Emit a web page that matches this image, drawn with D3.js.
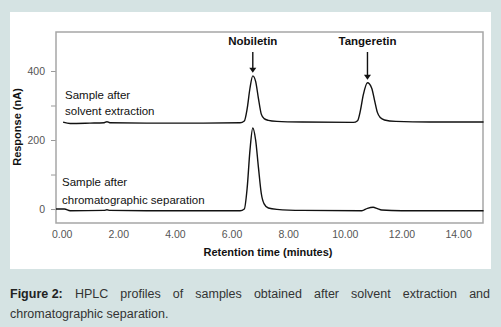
<!DOCTYPE html>
<html><head><meta charset="utf-8">
<script src="https://cdn.jsdelivr.net/npm/d3@7"></script>
<style>
html,body{margin:0;padding:0;background:#d5e3e3;}
svg{display:block;}
</style></head>
<body>
<svg id="c" width="501" height="327"></svg>
<script>
// ---- data ----
const xTicks = [0, 2, 4, 6, 8, 10, 12, 14];
const yTicks = [0, 100, 200, 300, 400];
const yLabelTicks = [0, 200, 400];

const solventTime  = [0.05, 0.3, 1.0, 1.5, 1.6, 1.7, 3.0, 5.0, 6.3, 6.45, 6.55, 6.65, 6.75, 6.85, 6.95, 7.05, 7.15, 7.3, 7.6, 8.5, 10.3, 10.45, 10.55, 10.65, 10.8, 10.95, 11.05, 11.15, 11.25, 11.4, 11.8, 13.0, 14.9];
const solventValue = [252, 248, 249, 250, 253, 250, 249, 249, 250, 255, 290, 350, 386, 370, 320, 275, 262, 257, 254, 252, 251, 256, 285, 330, 366, 350, 315, 280, 265, 258, 254, 252, 252];

const chromTime  = [-0.2, 0.1, 0.3, 1.5, 1.6, 1.7, 3.0, 6.3, 6.45, 6.55, 6.65, 6.75, 6.85, 6.95, 7.05, 7.15, 7.3, 7.6, 8.5, 10.6, 10.8, 11.0, 11.15, 11.3, 12.0, 14.9];
const chromValue = [0, 0, -5, -4, -2, -4, -5, -5, 0, 60, 170, 235, 200, 120, 45, 15, 3, -1, -4, -5, 2, 5, 1, -3, -5, -5];

const peakNames = ["Nobiletin", "Tangeretin"];
const peakTimes = [6.75, 10.8];
const peakTops  = [386, 366];

const xTitle = "Retention time (minutes)";
const yTitle = "Response (nA)";
const captionBold = "Figure 2:";
const captionText = "HPLC profiles of samples obtained after solvent extraction and chromatographic separation.";

// ---- drawing ----
const svg = d3.select("#c");
svg.append("rect").attr("x",10).attr("y",12).attr("width",481).attr("height",257).attr("fill","#fff");

const L = 56, T = 32, R = 483, B = 223;
const x = d3.scaleLinear().domain([-0.2, 14.88]).range([L, R]);
const y = d3.scaleLinear().domain([-40.5, 513]).range([B, T]);

const font = "'Liberation Sans', Arial, sans-serif";

// y axis
const yAx = svg.append("g").attr("transform",`translate(${L},0)`)
  .call(d3.axisLeft(y).tickValues(yTicks).tickSize(5).tickFormat(d => yLabelTicks.includes(d) ? d : ""));
yAx.select(".domain").remove();
yAx.selectAll("line").attr("stroke","#999");
yAx.selectAll("text").attr("fill","#555").attr("font-family",font).attr("font-size",10.5).attr("dx",-3);

// x axis
const xAx = svg.append("g").attr("transform",`translate(0,${B})`)
  .call(d3.axisBottom(x).tickValues(xTicks).tickSize(0).tickFormat(d3.format(".2f")));
xAx.select(".domain").remove();
xAx.selectAll("text").attr("fill","#555").attr("font-family",font).attr("font-size",10.5).attr("dy","1.15em");

// frame
svg.append("rect").attr("x",L).attr("y",T).attr("width",R-L).attr("height",B-T)
  .attr("fill","none").attr("stroke","#a6a6a6").attr("stroke-width",1.5);

const line = d3.line().x(d => x(d[0])).y(d => y(d[1])).curve(d3.curveMonotoneX);
svg.append("path").datum(d3.zip(solventTime, solventValue)).attr("d", line)
  .attr("fill","none").attr("stroke","#111").attr("stroke-width",1.4);
svg.append("path").datum(d3.zip(chromTime, chromValue)).attr("d", line)
  .attr("fill","none").attr("stroke","#111").attr("stroke-width",1.4);

// peak labels + arrows
peakNames.forEach((n,i) => {
  const px = x(peakTimes[i]);
  svg.append("text").attr("x",px).attr("y",45).attr("text-anchor","middle")
    .attr("font-family",font).attr("font-size",11.5).attr("font-weight","bold").attr("fill","#111").text(n);
  svg.append("line").attr("x1",px).attr("x2",px).attr("y1",52).attr("y2",y(peakTops[i])-6)
    .attr("stroke","#111").attr("stroke-width",1.4);
  svg.append("path").attr("d",`M${px-3.5},${y(peakTops[i])-8} L${px+3.5},${y(peakTops[i])-8} L${px},${y(peakTops[i])-3} Z`).attr("fill","#111");
});

// sample labels
const lab = (tx, ty, t) => svg.append("text").attr("x",tx).attr("y",ty).attr("font-family",font)
  .attr("font-size",11.5).attr("fill","#111").text(t);
lab(65, 99, "Sample after");
lab(65, 115, "solvent extraction");
lab(62, 186, "Sample after");
lab(62, 204, "chromatographic separation");

// axis titles
svg.append("text").attr("x",268).attr("y",256).attr("text-anchor","middle").attr("font-family",font)
  .attr("font-size",11).attr("font-weight","bold").attr("fill","#111").text(xTitle);
svg.append("text").attr("transform","translate(21,127) rotate(-90)").attr("text-anchor","middle").attr("font-family",font)
  .attr("font-size",11).attr("font-weight","bold").attr("fill","#111").text(yTitle);

// caption (justified first line)
const capFont = 12.5;
const words = [{t:captionBold,b:true}].concat(captionText.split(" ").map(t=>({t,b:false})));
const cap = svg.append("g").attr("font-family",font).attr("font-size",capFont).attr("fill","#333");
const meas = words.map(w => {
  const e = cap.append("text").attr("font-weight", w.b ? "bold":"normal").text(w.t);
  const wd = e.node().getComputedTextLength(); e.remove(); return wd;
});
const left = 10, right = 490, minGap = 3.5;
let lines = [], cur = [], curW = 0;
words.forEach((w,i) => {
  const add = cur.length ? curW + minGap + meas[i] : meas[i];
  if (add > right-left && cur.length) { lines.push(cur); cur = [i]; curW = meas[i]; }
  else { cur.push(i); curW = add; }
});
lines.push(cur);
lines.forEach((ln, li) => {
  const ty = 298 + li*20;
  const total = d3.sum(ln, i => meas[i]);
  const gap = (li < lines.length-1 && ln.length>1) ? (right-left-total)/(ln.length-1) : minGap;
  let cx = left;
  ln.forEach(i => {
    cap.append("text").attr("x",cx).attr("y",ty).attr("font-weight",words[i].b?"bold":"normal")
      .attr("fill", words[i].b ? "#222" : "#333").text(words[i].t);
    cx += meas[i] + gap;
  });
});
</script>
</body></html>
